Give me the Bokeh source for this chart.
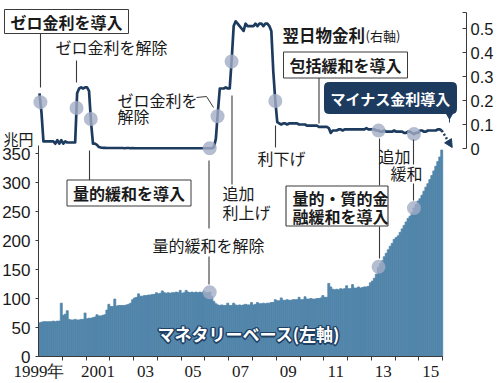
import numpy as np
from bokeh.plotting import figure
from bokeh.models import Range1d, LinearAxis, FixedTicker, Label, Arrow, NormalHead
from bokeh.embed import file_html
from bokeh.resources import INLINE

JP = "Noto Sans CJK JP"
NUM = "Liberation Sans"
NUM_NARROW = "Liberation Sans Narrow"
NAVY = "#1d3b5f"
BAR = "#5185aa"
DOT = "#a3adc6"
INK = "#1a1a1a"
RULE = "#3a3a3a"

# Monetary base, trillion yen, monthly (Jan..Dec)
base_1999 = [58, 59, 60, 60, 60, 60, 60, 61, 60, 61, 61, 92]
base_2000 = [71, 73, 79, 64, 63, 63, 64, 63, 63, 64, 64, 75]
base_2001 = [65, 66, 66, 67, 68, 72, 70, 70, 71, 72, 80, 90]
base_2002 = [86, 86, 99, 87, 88, 88, 88, 88, 89, 90, 92, 98]
base_2003 = [101, 102, 108, 104, 104, 105, 105, 106, 106, 107, 107, 110]
base_2004 = [108, 109, 113, 110, 109, 110, 109, 110, 110, 111, 110, 114]
base_2005 = [109, 110, 114, 111, 110, 111, 110, 111, 110, 111, 110, 113]
base_2006 = [110, 110, 111, 104, 95, 91, 89, 88, 89, 88, 88, 92]
base_2007 = [88, 88, 92, 89, 88, 89, 88, 89, 90, 89, 89, 93]
base_2008 = [89, 90, 93, 91, 91, 92, 91, 92, 92, 93, 93, 98]
base_2009 = [96, 96, 101, 97, 97, 98, 97, 97, 98, 98, 98, 102]
base_2010 = [98, 98, 103, 99, 99, 100, 99, 99, 100, 100, 101, 105]
base_2011 = [102, 102, 126, 120, 116, 115, 116, 115, 117, 116, 117, 122]
base_2012 = [117, 117, 124, 118, 118, 120, 118, 119, 120, 120, 121, 127]
base_2013 = [130, 135, 142, 154, 160, 165, 172, 178, 184, 190, 195, 202]
base_2014 = [205, 208, 214, 220, 226, 232, 238, 242, 248, 256, 262, 268]
base_2015 = [272, 278, 285, 292, 298, 305, 312, 320, 328, 336, 344, 356]

# Uncollateralized overnight call rate, %, monthly (Jan..Dec)
rate_1999 = [0.23, 0.15, 0.03, 0.03, 0.03, 0.03, 0.03, 0.03, 0.02, 0.035, 0.02, 0.035]
rate_2000 = [0.02, 0.03, 0.025, 0.025, 0.025, 0.025, 0.025, 0.23, 0.25, 0.255, 0.25, 0.255]
rate_2001 = [0.255, 0.24, 0.11, 0.02, 0.02, 0.015, 0.006, 0.004, 0.003, 0.003, 0.002, 0.002]
rate_2002 = [0.002, 0.002, 0.002, 0.002, 0.002, 0.002, 0.002, 0.001, 0.002, 0.002, 0.001, 0.002]
rate_2003 = [0.001, 0.001, 0.001, 0.001, 0.001, 0.001, 0.001, 0.001, 0.001, 0.001, 0.001, 0.001]
rate_2004 = [0.001, 0.001, 0.001, 0.001, 0.001, 0.001, 0.001, 0.001, 0.001, 0.001, 0.001, 0.001]
rate_2005 = [0.001, 0.001, 0.001, 0.001, 0.001, 0.001, 0.001, 0.001, 0.001, 0.001, 0.001, 0.001]
rate_2006 = [0.001, 0.001, 0.001, 0.001, 0.005, 0.04, 0.15, 0.25, 0.25, 0.25, 0.255, 0.25]
rate_2007 = [0.25, 0.37, 0.51, 0.53, 0.52, 0.51, 0.50, 0.49, 0.52, 0.51, 0.51, 0.51]
rate_2008 = [0.51, 0.52, 0.51, 0.52, 0.52, 0.51, 0.52, 0.52, 0.51, 0.49, 0.32, 0.20]
rate_2009 = [0.11, 0.105, 0.10, 0.105, 0.105, 0.10, 0.105, 0.105, 0.105, 0.105, 0.105, 0.10]
rate_2010 = [0.10, 0.10, 0.10, 0.095, 0.095, 0.095, 0.095, 0.095, 0.095, 0.09, 0.09, 0.09]
rate_2011 = [0.09, 0.09, 0.085, 0.065, 0.075, 0.075, 0.075, 0.08, 0.08, 0.075, 0.08, 0.08]
rate_2012 = [0.08, 0.08, 0.08, 0.08, 0.08, 0.08, 0.08, 0.08, 0.08, 0.085, 0.08, 0.08]
rate_2013 = [0.08, 0.08, 0.075, 0.075, 0.07, 0.07, 0.075, 0.07, 0.07, 0.07, 0.07, 0.075]
rate_2014 = [0.07, 0.07, 0.07, 0.07, 0.065, 0.065, 0.07, 0.07, 0.065, 0.06, 0.065, 0.065]
rate_2015 = [0.075, 0.075, 0.07, 0.07, 0.075, 0.075, 0.075, 0.075, 0.075, 0.08, 0.08, 0.075]

# Policy events (fractional year) marked on the rate line / monetary base
rate_events = [1999.08, 2000.6, 2001.2, 2006.2, 2006.53, 2007.12, 2008.96, 2013.3, 2014.79]
base_events = [2006.2, 2013.3, 2014.79]
negative_rate_start = 2016.4

year_ticks = [1999.02, 2001.5, 2003.5, 2005.5, 2007.5, 2009.5, 2011.5, 2013.5, 2015.5]
year_labels = ["1999年", "2001", "03", "05", "07", "09", "11", "13", "15"]
year_bounds = list(range(2000, 2017))
base_ticks = [0, 50, 100, 150, 200, 250, 300, 350]
rate_ticks = [0, 0.1, 0.2, 0.3, 0.4, 0.5]

base = np.array(base_1999 + base_2000 + base_2001 + base_2002 + base_2003 + base_2004 +
                base_2005 + base_2006 + base_2007 + base_2008 + base_2009 + base_2010 +
                base_2011 + base_2012 + base_2013 + base_2014 + base_2015, dtype=float)
rate = np.array(rate_1999 + rate_2000 + rate_2001 + rate_2002 + rate_2003 + rate_2004 +
                rate_2005 + rate_2006 + rate_2007 + rate_2008 + rate_2009 + rate_2010 +
                rate_2011 + rate_2012 + rate_2013 + rate_2014 + rate_2015, dtype=float)
t = 1999 + (np.arange(base.size) + 0.5) / 12

# The plotting frame fills the whole 500x383 canvas; axes sit at fixed data locations.
W, H = 500, 383
PPX = 428 / 18                  # px per year (1999 at x=38, 2017 at x=466)
X_LO = 1999 - 38 / PPX
X_HI = X_LO + W / PPX
BASE_PPU = 0.58                 # px per trillion yen, zero at y=356
BASE_LO, BASE_HI = -(H - 356) / BASE_PPU, 356 / BASE_PPU
RATE_PPU = 240                  # px per percentage point, zero at y=148
RATE_LO, RATE_HI = -(H - 148) / RATE_PPU, 148 / RATE_PPU

p = figure(width=W, height=H, min_border=0, x_range=Range1d(X_LO, X_HI),
           y_range=Range1d(BASE_LO, BASE_HI), x_axis_location=None, y_axis_location=None,
           output_backend="svg", toolbar_location=None)
p.extra_y_ranges = {"rate": Range1d(RATE_LO, RATE_HI)}
p.grid.grid_line_color = None
p.outline_line_color = None
p.background_fill_color = "white"
p.border_fill_color = "white"

# x axis: tick marks on year boundaries, labels centred in the year
xa = LinearAxis(fixed_location=0, ticker=FixedTicker(ticks=year_ticks, minor_ticks=year_bounds),
                major_label_overrides=dict(zip(year_ticks, year_labels)), bounds=(1999, 2016))
xa.major_tick_line_color = None
xa.major_tick_out = 0
xa.major_tick_in = 0
xa.minor_tick_out = 4
xa.minor_tick_in = 0
xa.minor_tick_line_color = RULE
xa.axis_line_color = RULE
xa.major_label_standoff = 1
xa.major_label_text_font = NUM_NARROW
xa.major_label_text_font_size = "17px"
xa.major_label_text_color = INK
p.add_layout(xa, "below")

ya = LinearAxis(fixed_location=1999, ticker=FixedTicker(ticks=base_ticks), bounds=(0, 364))
ya.major_tick_out = 3
ya.major_tick_in = 0
ya.minor_tick_line_color = None
ya.axis_line_color = RULE
ya.major_tick_line_color = RULE
ya.major_label_standoff = 5
ya.major_label_text_font = NUM
ya.major_label_text_font_size = "17px"
ya.major_label_text_color = INK
p.add_layout(ya, "left")

ra = LinearAxis(fixed_location=2017, y_range_name="rate",
                ticker=FixedTicker(ticks=rate_ticks, minor_ticks=[0.567]),
                bounds=(0, 0.567), major_label_overrides={0: "0"})
ra.major_tick_in = 4
ra.major_tick_out = 0
ra.minor_tick_in = 4
ra.minor_tick_out = 0
ra.axis_line_color = RULE
ra.major_tick_line_color = RULE
ra.minor_tick_line_color = RULE
ra.major_label_standoff = 4
ra.major_label_text_font = NUM
ra.major_label_text_font_size = "16.5px"
ra.major_label_text_color = INK
p.add_layout(ra, "right")

# monetary base bars (left axis)
p.vbar(x=t, top=base, width=1 / 12, bottom=0, fill_color=BAR, line_color=BAR, line_width=0.8)

# overnight rate (right axis)
p.line(t, rate, y_range_name="rate", line_color=NAVY, line_width=2.7, line_join="round")
p.add_layout(Arrow(x_start=t[-1], y_start=rate[-1], x_end=negative_rate_start, y_end=0.004,
                   y_range_name="rate", line_color=NAVY, line_width=2.5, line_dash="2 2",
                   end=NormalHead(size=8, fill_color=NAVY, line_color=NAVY)))


def gx(px):
    return X_LO + px / PPX


def gy(py):
    return RATE_HI - py / RATE_PPU


# event markers
p.scatter(rate_events, np.interp(rate_events, t, rate), y_range_name="rate", size=14,
          fill_color=DOT, fill_alpha=0.8, line_color=None)
p.scatter(base_events, np.interp(base_events, t, base), size=14,
          fill_color=DOT, fill_alpha=0.8, line_color=None)

# callout leader lines and the frame of the two-line callout
# (canvas pixels: x from, y from, x to, y to)
strokes = [(40, 29, 40, 87), (76, 60, 76, 82), (89, 150, 89, 180),
           (208.5, 160, 208.5, 228), (208.5, 256, 208.5, 284),
           (231.5, 95, 231.5, 184), (275, 125, 275, 147), (318.5, 77, 318.5, 123),
           (379, 138, 379, 185), (379, 226, 379, 258), (413, 139, 413, 164),
           (413, 183, 413, 200),
           (285.5, 185.5, 387.5, 185.5), (387.5, 185.5, 387.5, 225.5),
           (387.5, 225.5, 285.5, 225.5), (285.5, 225.5, 285.5, 185.5)]
p.segment(x0=[gx(s[0]) for s in strokes], y0=[gy(s[1]) for s in strokes],
          x1=[gx(s[2]) for s in strokes], y1=[gy(s[3]) for s in strokes],
          y_range_name="rate", line_color=RULE, line_width=1.1)
p.line([gx(196), gx(206), gx(213)], [gy(97), gy(96), gy(107)], y_range_name="rate",
       line_color=RULE, line_width=1)
p.segment(x0=[gx(449)], y0=[gy(112)], x1=[gx(449)], y1=[gy(122)], y_range_name="rate",
          line_color=NAVY, line_width=1)
p.scatter([gx(449)], [gy(114)], y_range_name="rate", marker="inverted_triangle", size=8,
          fill_color=NAVY, line_color=NAVY)

BOXED = dict(background_fill_color="white", border_line_color=RULE, border_line_width=1)


def note(px, py, text, size=16, bold=False, color=INK, align="left", dx=0, dy=0, **extra):
    p.add_layout(Label(x=gx(px), y=gy(py), y_range_name="rate", text=text, text_font=JP,
                       text_font_size=f"{size}px",
                       text_font_style="bold" if bold else "normal",
                       text_color=color, text_align=align, text_baseline="middle",
                       x_offset=dx, y_offset=dy, **extra))


note(66, 21, "ゼロ金利を導入", bold=True, align="center",
     padding=dict(left=6, right=6, top=0, bottom=0), **BOXED)
note(55, 46.5, "ゼロ金利を解除")
note(117, 99, "ゼロ金利を")
note(117, 115, "解除")
note(128.5, 192.5, "量的緩和を導入", bold=True, align="center",
     padding=dict(left=6, right=6, top=1, bottom=1), **BOXED)
note(222, 192.5, "追加")
note(222, 211, "利上げ")
note(152, 244, "量的緩和を解除")
note(282, 34, "翌日物金利", size=16.5, bold=True)
note(365, 35, "(右軸)", size=13)
note(345, 64.5, "包括緩和を導入", bold=True, align="center",
     padding=dict(left=6, right=6, top=1, bottom=1), **BOXED)
note(257, 157, "利下げ")
note(390, 97.5, "マイナス金利導入", size=15, bold=True, color="white", align="center",
     padding=dict(left=6, right=6, top=5, bottom=5), background_fill_color=NAVY,
     border_line_color=NAVY, border_radius=4)
note(292, 197.5, "量的・質的金", bold=True)
note(292, 215.5, "融緩和を導入", bold=True)
note(378, 155.5, "追加")
note(390, 172.5, "緩和")
note(3, 138, "兆円", size=15)

# outlined series title on the bars
for ox, oy in [(-1.5, 0), (1.5, 0), (0, -1.5), (0, 1.5), (-1, -1), (1, 1), (-1, 1), (1, -1)]:
    note(157, 333, "マネタリーベース(左軸)", size=17, bold=True, color="#1f3f63", dx=ox, dy=oy)
note(157, 333, "マネタリーベース(左軸)", size=17, bold=True, color="white")

open("out.html", "w").write(file_html(p, INLINE))
